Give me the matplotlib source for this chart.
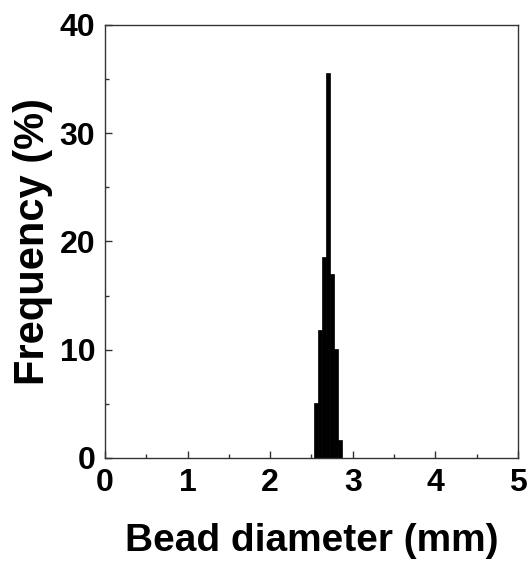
import matplotlib.pyplot as plt
from matplotlib.ticker import MultipleLocator

# histogram of bead diameters (bin centres in mm, frequency in %)
bin_centers = [2.55, 2.60, 2.65, 2.70, 2.75, 2.80, 2.85]
frequency = [5.1, 11.8, 18.6, 35.6, 17.0, 10.1, 1.7]
bin_width = 0.05

plt.rcParams['font.family'] = ['Liberation Sans', 'DejaVu Sans']
plt.rcParams['font.weight'] = 'bold'

fig = plt.figure(figsize=(5.29, 5.65), dpi=100)
ax = fig.add_axes([0.1985, 0.1894, 0.7805, 0.7664])

ax.bar(bin_centers, frequency, width=bin_width, color='black',
       edgecolor='black', linewidth=0.5)

ax.set_xlim(0, 5)
ax.set_ylim(0, 40)
ax.xaxis.set_major_locator(MultipleLocator(1))
ax.xaxis.set_minor_locator(MultipleLocator(0.5))
ax.yaxis.set_major_locator(MultipleLocator(10))
ax.yaxis.set_minor_locator(MultipleLocator(5))

for s in ax.spines.values():
    s.set_color('#333333')
    s.set_linewidth(1.0)

ax.tick_params(which='both', direction='in', top=False, right=False,
               color='#333333', width=1.0)
ax.tick_params(which='major', length=5, labelsize=23, pad=7)
ax.tick_params(which='minor', length=3)
for lbl in ax.get_xticklabels() + ax.get_yticklabels():
    lbl.set_fontweight('bold')

ax.set_xlabel('Bead diameter (mm)', fontsize=28, fontweight='bold', labelpad=18)
ax.set_ylabel('Frequency (%)', fontsize=30, fontweight='bold', labelpad=5)

fig.savefig('out.png', dpi=100)
plt.close(fig)
